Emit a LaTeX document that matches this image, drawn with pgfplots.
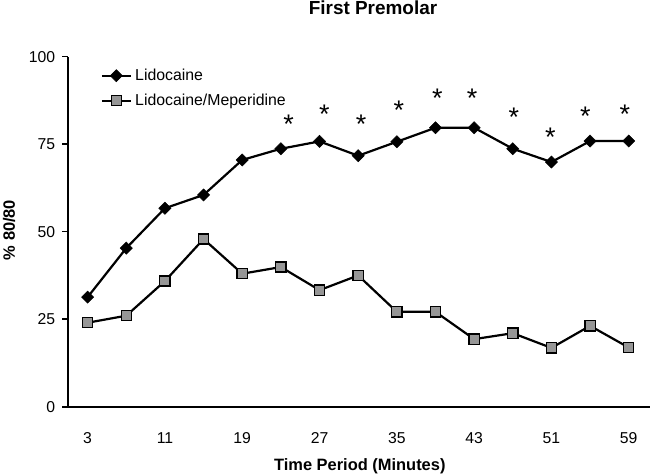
\documentclass[border=0pt]{standalone}
\usepackage{fontspec}
\setmainfont{Liberation Sans}
\usepackage{pgfplots}
\usepackage{pgfplotstable}
\pgfplotsset{compat=1.18}
\definecolor{sqfill}{RGB}{150,150,150}
\pgfplotstableread{
x lido mep
3 31.3 24.0
7 45.3 26.0
11 56.7 35.9
15 60.5 47.9
19 70.5 38.0
23 73.7 39.9
27 75.8 33.3
31 71.7 37.5
35 75.7 27.1
39 79.7 27.1
43 79.7 19.3
47 73.7 21.0
51 69.9 16.8
55 75.9 23.1
59 75.9 16.9
}\datatable
\pgfplotstableread{
x y
23.8 80.6
27.5 83.5
31.3 80.6
35.2 84.6
39.2 88.0
42.8 88.0
47.1 82.7
50.9 77.1
54.5 83.0
58.6 83.7
}\asttable
\begin{document}
\begin{tikzpicture}
\path[use as bounding box] (-68.3bp,-67.3bp) rectangle (581.7bp,406.7bp);
\begin{axis}[
  at={(0,0)}, anchor=south west,
  scale only axis, width=581.7bp, height=350bp,
  xmin=1, xmax=61.2, ymin=0, ymax=100,
  axis lines=left,
  axis line style={line width=2.3bp, -},
  xtick={3,11,19,27,35,43,51,59},
  ytick={0,25,50,75,100},
  tick align=outside,
  major tick length=6bp,
  xtick style={draw=none},
  ytick style={line width=1.6bp, black},
  /pgf/number format/assume math mode=true,
  tick label style={font=\fontsize{15.8}{18}\selectfont, inner sep=0pt},
  xticklabel style={anchor=north},
  yticklabel style={anchor=east},
  xticklabel shift=20bp,
  yticklabel shift=7bp,
  clip=false,
  legend style={at={(rel axis cs:0.0557,0.9657)}, anchor=north west, draw=none, fill=none,
    inner sep=0pt, outer sep=0pt, row sep=11bp, column sep=3.3bp,
    font=\fontsize{15.9}{18}\selectfont,
    nodes={inner sep=0pt, text height=12bp, text depth=2bp}},
  legend cell align=left,
  legend image code/.code={\draw[mark repeat=2, mark phase=2, #1] plot coordinates {(0bp,0bp) (14.5bp,0bp) (29bp,0bp)};},
]
\addplot[black, line width=2.2bp, mark=square*, mark size=4.3bp,
  mark options={rotate=45, solid, fill=black, line width=0.5bp}]
  table[x=x, y=lido] {\datatable};
\addlegendentry{Lidocaine}
\addplot[black, line width=2.2bp, mark=square*, mark size=5.1bp,
  mark options={solid, fill=sqfill, draw=black, line width=1.3bp}]
  table[x=x, y=mep] {\datatable};
\addlegendentry{Lidocaine/Meperidine}
\addplot[only marks, mark=text, text mark={\fontsize{27}{27}\selectfont *}, forget plot]
  table[x=x, y=y] {\asttable};
\end{axis}
\node[anchor=base, font=\bfseries\fontsize{19}{21}\selectfont] at (304.7bp,391.7bp) {First Premolar};
\node[anchor=base, font=\bfseries\fontsize{16.5}{20}\selectfont] at (291.5bp,-63.3bp) {Time Period (Minutes)};
\node[anchor=base, rotate=90, font=\bfseries\fontsize{16.5}{20}\selectfont] at (-53.3bp,176.7bp) {\% 80/80};
\end{tikzpicture}
\end{document}
